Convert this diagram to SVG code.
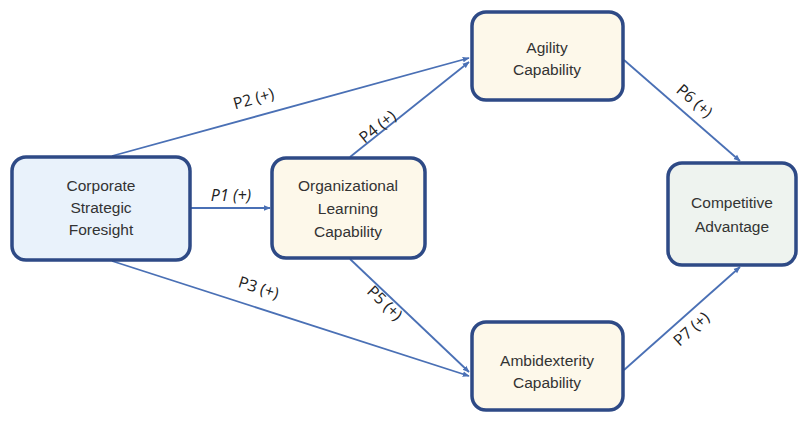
<svg xmlns="http://www.w3.org/2000/svg" width="800" height="421" viewBox="0 0 800 421">
  <defs>
    <marker id="arrow" viewBox="0 0 10 10" refX="9" refY="5" markerWidth="7" markerHeight="7" orient="auto" markerUnits="userSpaceOnUse">
      <path d="M0,1 L10,5 L0,9 z" fill="#4a70b5"/>
    </marker>
    <style>
      .box { stroke: #2e4a86; stroke-width: 3.5; }
      .blue { fill: #e9f2fb; }
      .cream { fill: #fdf8ea; }
      .gray { fill: #eef3ef; }
      .txt { font-family: "Liberation Sans", Arial, sans-serif; font-size: 15.5px; fill: #333333; text-anchor: middle; }
      .edge { stroke: #4a70b5; stroke-width: 1.8; fill: none; marker-end: url(#arrow); }
      .lbl { font-family: "Open Sans", "Liberation Sans", sans-serif; font-size: 16px; fill: #222222; text-anchor: middle; }
    </style>
  </defs>

  <rect width="800" height="421" fill="#ffffff"/>

  <!-- connectors -->
  <g id="connectors">
    <line class="edge" x1="112" y1="156" x2="469" y2="58"/>
    <line class="edge" x1="191" y1="208" x2="270" y2="208"/>
    <line class="edge" x1="112" y1="261" x2="469" y2="376"/>
    <line class="edge" x1="350" y1="157" x2="469" y2="62"/>
    <line class="edge" x1="350" y1="259" x2="469" y2="372"/>
    <line class="edge" x1="624" y1="60" x2="740" y2="161"/>
    <line class="edge" x1="624" y1="370" x2="740" y2="267"/>
    <text class="lbl" transform="translate(255,104) rotate(-15.5)">P2 (+)</text>
    <text class="lbl" font-style="italic" x="231" y="201">P1 (+)</text>
    <text class="lbl" transform="translate(257,293) rotate(17.5)">P3 (+)</text>
    <text class="lbl" transform="translate(381,131) rotate(-39)">P4 (+)</text>
    <text class="lbl" transform="translate(381,307) rotate(44)">P5 (+)</text>
    <text class="lbl" transform="translate(691,105) rotate(41)">P6 (+)</text>
    <text class="lbl" transform="translate(695,333) rotate(-42)">P7 (+)</text>
  </g>

  <!-- nodes -->
  <g id="node-csf">
    <rect class="box blue" x="12" y="157" width="178" height="103" rx="14"/>
    <text class="txt" x="101" y="191">Corporate</text>
    <text class="txt" x="101" y="213">Strategic</text>
    <text class="txt" x="101" y="235">Foresight</text>
  </g>
  <g id="node-olc">
    <rect class="box cream" x="272" y="158" width="153" height="100" rx="14"/>
    <text class="txt" x="348" y="191">Organizational</text>
    <text class="txt" x="348" y="214">Learning</text>
    <text class="txt" x="348" y="237">Capability</text>
  </g>
  <g id="node-agility">
    <rect class="box cream" x="472" y="12" width="151" height="88" rx="14"/>
    <text class="txt" x="547" y="53">Agility</text>
    <text class="txt" x="547" y="75">Capability</text>
  </g>
  <g id="node-ambi">
    <rect class="box cream" x="472" y="322" width="151" height="88" rx="14"/>
    <text class="txt" x="547" y="366">Ambidexterity</text>
    <text class="txt" x="547" y="388">Capability</text>
  </g>
  <g id="node-ca">
    <rect class="box gray" x="668" y="163" width="128" height="102" rx="14"/>
    <text class="txt" x="732" y="208">Competitive</text>
    <text class="txt" x="732" y="232">Advantage</text>
  </g>
</svg>
